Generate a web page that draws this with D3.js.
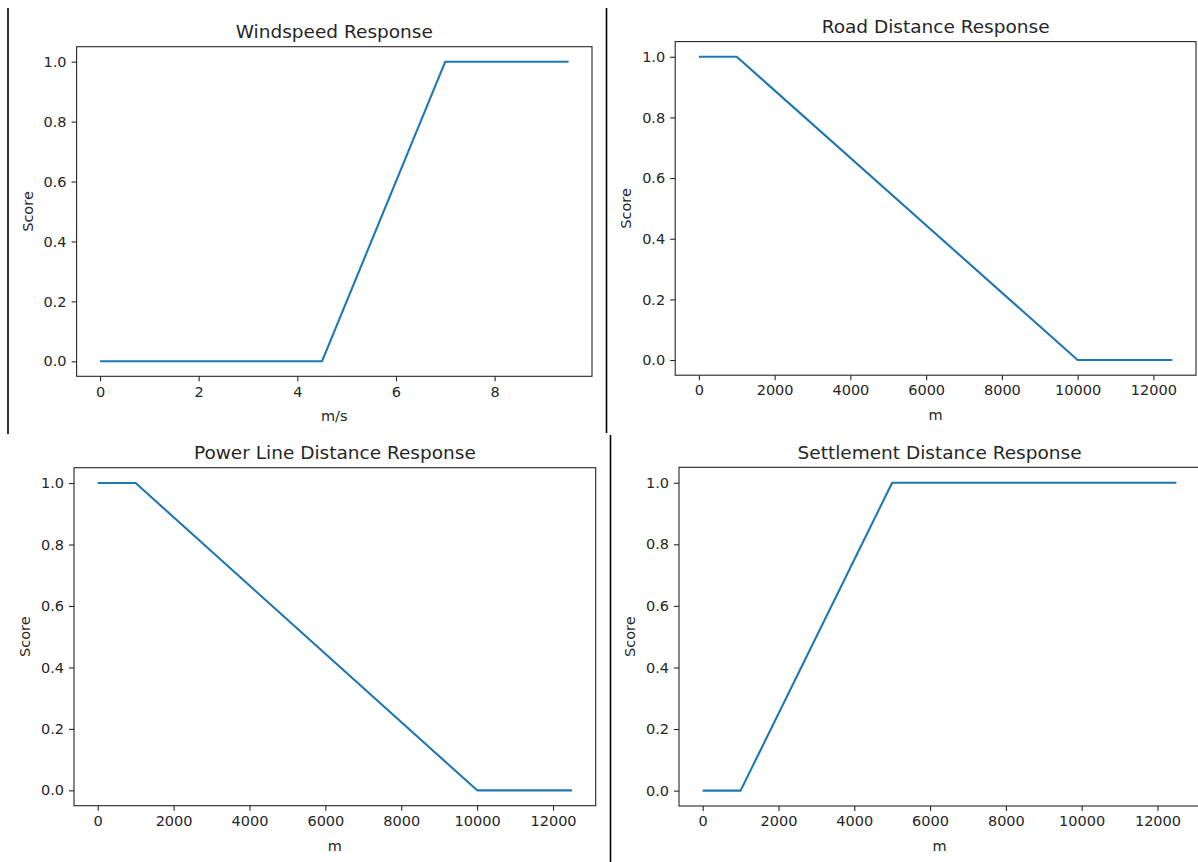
<!DOCTYPE html>
<html>
<head>
<meta charset="utf-8">
<script src="https://cdn.jsdelivr.net/npm/d3@7"></script>
<style>
  html, body { margin: 0; padding: 0; background: #fff; }
  svg { display: block; }
  text { font-family: "DejaVu Sans", sans-serif; fill: #262626; }
</style>
</head>
<body>
<svg id="chart" width="1198" height="862"></svg>
<script>
// ---- Data ----
const windX = [0, 4.5, 7, 9.5];
const windY = [0, 0, 1, 1];
const roadX = [0, 1000, 10000, 12500];
const roadY = [1, 1, 0, 0];
const powerX = [0, 1000, 10000, 12500];
const powerY = [1, 1, 0, 0];
const settleX = [0, 1000, 5000, 12500];
const settleY = [0, 0, 1, 1];

const windTicks = [0, 2, 4, 6, 8];
const distTicks = [0, 2000, 4000, 6000, 8000, 10000, 12000];
const scoreTicks = [0.0, 0.2, 0.4, 0.6, 0.8, 1.0];

const titles = ["Windspeed Response", "Road Distance Response", "Power Line Distance Response", "Settlement Distance Response"];
const xLabels = ["m/s", "m", "m", "m"];
const yLabel = "Score";

// ---- Layout ----
const svg = d3.select("#chart");
svg.append("rect").attr("width", 1198).attr("height", 862).attr("fill", "#fff");

const panels = [
  { x: windX, y: windY, ticks: windTicks, fmt: d3.format("d"), box: [76.6, 46.7, 592, 376.3], title: titles[0], xl: xLabels[0] },
  { x: roadX, y: roadY, ticks: distTicks, fmt: d3.format("d"), box: [675.2, 41.6, 1196, 375.2], title: titles[1], xl: xLabels[1] },
  { x: powerX, y: powerY, ticks: distTicks, fmt: d3.format("d"), box: [74, 467.7, 595.7, 805.7], title: titles[2], xl: xLabels[2] },
  { x: settleX, y: settleY, ticks: distTicks, fmt: d3.format("d"), box: [679, 467.3, 1200.1, 806], title: titles[3], xl: xLabels[3] }
];

const lineColor = "#1f77b4";
const axisColor = "#262626";

panels.forEach(p => {
  const [L, T, R, B] = p.box;
  const xmin = d3.min(p.x), xmax = d3.max(p.x);
  const xm = (xmax - xmin) * 0.05;
  const xScale = d3.scaleLinear().domain([xmin - xm, xmax + xm]).range([L, R]);
  const yScale = d3.scaleLinear().domain([-0.05, 1.05]).range([B, T]);

  const g = svg.append("g");

  // data line
  const pts = p.x.map((v, i) => [v, p.y[i]]);
  g.append("path")
    .datum(pts)
    .attr("fill", "none")
    .attr("stroke", lineColor)
    .attr("stroke-width", 2.1)
    .attr("stroke-linejoin", "round")
    .attr("d", d3.line().x(d => xScale(d[0])).y(d => yScale(d[1])));

  // x axis
  const xAxis = d3.axisBottom(xScale).tickValues(p.ticks).tickFormat(p.fmt).tickSize(5).tickPadding(5).tickSizeOuter(0);
  const gx = g.append("g").attr("transform", `translate(0,${B})`).call(xAxis);
  gx.select(".domain").remove();
  gx.selectAll(".tick line").attr("stroke", axisColor).attr("stroke-width", 1.1);
  gx.selectAll(".tick text").attr("font-size", 14.5).attr("font-family", "DejaVu Sans").attr("fill", "#262626");

  // y axis
  const yAxis = d3.axisLeft(yScale).tickValues(scoreTicks).tickFormat(d3.format(".1f")).tickSize(5).tickPadding(5).tickSizeOuter(0);
  const gy = g.append("g").attr("transform", `translate(${L},0)`).call(yAxis);
  gy.select(".domain").remove();
  gy.selectAll(".tick line").attr("stroke", axisColor).attr("stroke-width", 1.1);
  gy.selectAll(".tick text").attr("font-size", 14.5).attr("font-family", "DejaVu Sans").attr("fill", "#262626");

  // frame
  g.append("rect")
    .attr("x", L).attr("y", T).attr("width", R - L).attr("height", B - T)
    .attr("fill", "none").attr("stroke", axisColor).attr("stroke-width", 1.1);

  // title
  g.append("text")
    .attr("x", (L + R) / 2).attr("y", T - 8.5)
    .attr("text-anchor", "middle").attr("font-size", 18.5)
    .text(p.title);

  // x label
  g.append("text")
    .attr("x", (L + R) / 2).attr("y", B + 45)
    .attr("text-anchor", "middle").attr("font-size", 14.5)
    .text(p.xl);

  // y label
  g.append("text")
    .attr("transform", `translate(${L - 44},${(T + B) / 2}) rotate(-90)`)
    .attr("text-anchor", "middle").attr("font-size", 14.5)
    .text(yLabel);
});

// separator lines (screenshot collage borders)
const seps = [[8, 8, 8, 434], [606.5, 8, 606.5, 433], [610.5, 435, 610.5, 862]];
svg.selectAll("line.sep").data(seps).enter().append("line")
  .attr("class", "sep")
  .attr("x1", d => d[0]).attr("y1", d => d[1]).attr("x2", d => d[2]).attr("y2", d => d[3])
  .attr("stroke", "#000").attr("stroke-width", 1.6);
</script>
</body>
</html>
